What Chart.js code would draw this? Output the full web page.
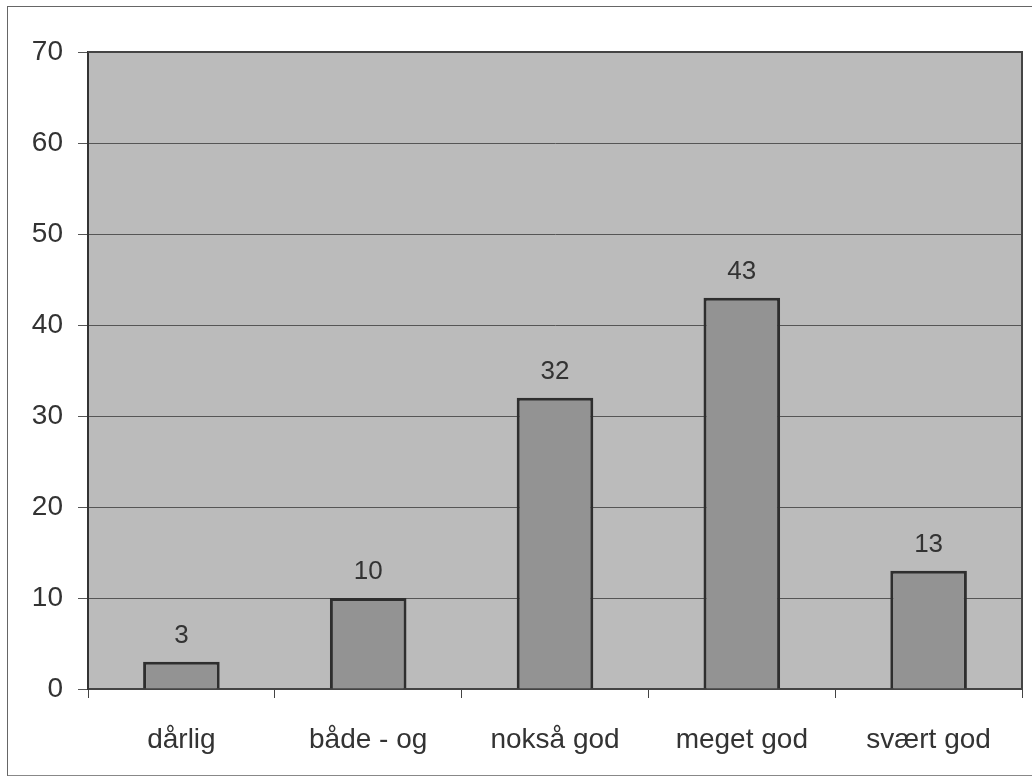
<!DOCTYPE html>
<html>
<head>
<meta charset="utf-8">
<script src="https://cdn.jsdelivr.net/npm/chart.js@4/dist/chart.umd.min.js"></script>
<style>
  body { margin: 0; background: #fff; }
  #frame { position: absolute; left: 7px; top: 6px; width: 1030px; height: 768px; border: 1px solid #666; border-right: none; border-bottom: 2px solid #888; }
  canvas { position: absolute; left: 0; top: 0; }
</style>
</head>
<body>
<div id="frame"></div>
<canvas id="chart" width="1032" height="776"></canvas>
<script>
const categories = ["dårlig", "både - og", "nokså god", "meget god", "svært god"];
const values = [3, 10, 32, 43, 13];
const yTicks = [0, 10, 20, 30, 40, 50, 60, 70];

const textColor = "#333";

// grey plot area plus the top / right frame of it
const plotBox = {
  id: "plotBox",
  beforeDraw(chart) {
    const { ctx, chartArea: a } = chart;
    ctx.save();
    ctx.fillStyle = "#bbbbbb";
    ctx.fillRect(a.left, a.top, a.right - a.left, a.bottom - a.top);
    ctx.restore();
  },
  afterDraw(chart) {
    const { ctx, chartArea: a } = chart;
    ctx.save();
    ctx.strokeStyle = "#444";
    ctx.lineWidth = 2;
    ctx.beginPath();
    ctx.moveTo(a.left, a.top);
    ctx.lineTo(a.right, a.top);
    ctx.lineTo(a.right, a.bottom);
    ctx.stroke();
    ctx.restore();
  }
};

// value labels above bars
const barLabels = {
  id: "barLabels",
  afterDatasetsDraw(chart) {
    const { ctx } = chart;
    const meta = chart.getDatasetMeta(0);
    ctx.save();
    ctx.fillStyle = textColor;
    ctx.font = "26px 'Liberation Sans', Arial, sans-serif";
    ctx.textAlign = "center";
    ctx.textBaseline = "bottom";
    meta.data.forEach((bar, i) => {
      ctx.fillText(String(values[i]), bar.x, bar.y - 13);
    });
    ctx.restore();
  }
};

new Chart(document.getElementById("chart"), {
  type: "bar",
  data: {
    labels: categories,
    datasets: [{
      data: values,
      backgroundColor: "#939393",
      borderColor: "#2e2e2e",
      borderWidth: 3,
      barPercentage: 0.41,
      categoryPercentage: 1
    }]
  },
  options: {
    responsive: false,
    animation: false,
    layout: { padding: { top: 52, right: 10, left: 0, bottom: 0 } },
    plugins: { legend: { display: false }, tooltip: { enabled: false } },
    scales: {
      x: {
        afterFit: (s) => { s.height = 87; },
        grid: { drawOnChartArea: false, tickLength: 9, color: "#444", lineWidth: 1 },
        border: { color: "#444", width: 2 },
        ticks: { color: textColor, padding: 25, font: { family: "'Liberation Sans', Arial, sans-serif", size: 28 } }
      },
      y: {
        min: 0,
        max: 70,
        afterFit: (s) => { s.width = 88; },
        afterBuildTicks: (s) => { s.ticks = yTicks.map(v => ({ value: v })); },
        grid: { color: "#555", lineWidth: 1, tickLength: 10 },
        border: { color: "#333", width: 2 },
        ticks: { color: textColor, padding: 15, font: { family: "'Liberation Sans', Arial, sans-serif", size: 28 } }
      }
    }
  },
  plugins: [plotBox, barLabels]
});
</script>
</body>
</html>
